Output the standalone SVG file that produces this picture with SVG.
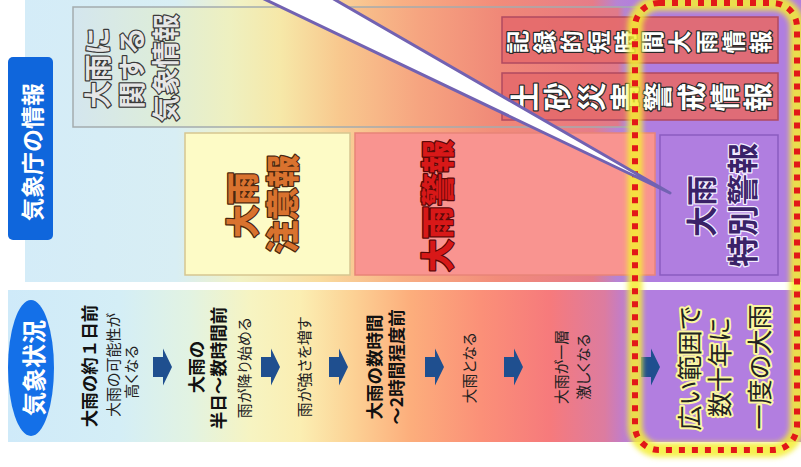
<svg xmlns="http://www.w3.org/2000/svg" xmlns:xlink="http://www.w3.org/1999/xlink" width="801" height="467" viewBox="0 0 801 467">
<defs>
<style>
text{font-family:"Noto Sans CJK JP","Noto Sans",sans-serif}
.v{text-anchor:middle;dominant-baseline:central}
.gray{font-size:27px;font-weight:700;fill:#e6e6e6;stroke:#3a3a3a;stroke-width:2.5px;paint-order:stroke;stroke-linejoin:round}
.chui{font-size:33px;font-weight:900;fill:#d9722e;stroke:#4a2810;stroke-width:2.5px;paint-order:stroke;stroke-linejoin:round}
.keiho{font-size:33px;font-weight:900;fill:#d81818;stroke:#5a0808;stroke-width:2.5px;paint-order:stroke;stroke-linejoin:round}
.toku{font-size:31px;font-weight:700;fill:#3a2268;stroke:#f4eeff;stroke-width:2.5px;paint-order:stroke;stroke-linejoin:round}
.redt{font-weight:700;fill:#ffffff;stroke:#2a2a2a;stroke-width:2.5px;paint-order:stroke;stroke-linejoin:round}
.wh{font-weight:700;fill:#ffffff}
.b{font-size:17.5px;font-weight:700;fill:#111}
.r{font-size:15px;font-weight:400;fill:#222;font-feature-settings:"palt"}
.fin{font-size:25px;font-weight:400;fill:#222;stroke:#fbf7a0;stroke-width:4px;paint-order:stroke;stroke-linejoin:round}
.arr{fill:#1f4f8f}
</style>
<linearGradient id="gBot" gradientUnits="userSpaceOnUse" x1="0" y1="0" x2="801" y2="0">
<stop offset="0.01" stop-color="#cfeaf9"/>
<stop offset="0.15" stop-color="#d4eef6"/>
<stop offset="0.237" stop-color="#e2f3e2"/>
<stop offset="0.312" stop-color="#f6f4c2"/>
<stop offset="0.375" stop-color="#fbeeb2"/>
<stop offset="0.437" stop-color="#fcd396"/>
<stop offset="0.512" stop-color="#fcae7c"/>
<stop offset="0.6" stop-color="#fb9078"/>
<stop offset="0.687" stop-color="#f67a7c"/>
<stop offset="0.755" stop-color="#dc7ca0"/>
<stop offset="0.79" stop-color="#b27ee0"/>
<stop offset="1" stop-color="#b27ee0"/>
</linearGradient>
<linearGradient id="gTop" gradientUnits="userSpaceOnUse" x1="0" y1="0" x2="801" y2="0">
<stop offset="0.03" stop-color="#d4ecf8"/>
<stop offset="0.22" stop-color="#d8eef4"/>
<stop offset="0.3" stop-color="#f2f2c4"/>
<stop offset="0.4" stop-color="#f9dc9e"/>
<stop offset="0.5" stop-color="#f8b084"/>
<stop offset="0.62" stop-color="#f28c7a"/>
<stop offset="0.74" stop-color="#e67c88"/>
<stop offset="0.77" stop-color="#b684d4"/>
<stop offset="0.8" stop-color="#b07ee0"/>
<stop offset="1" stop-color="#b07ee0"/>
</linearGradient>
<linearGradient id="gBox" gradientUnits="userSpaceOnUse" x1="0" y1="0" x2="801" y2="0">
<stop offset="0.094" stop-color="#d4e6ee"/>
<stop offset="0.187" stop-color="#dcecdc"/>
<stop offset="0.287" stop-color="#eef0c0"/>
<stop offset="0.35" stop-color="#f6e8a8"/>
<stop offset="0.424" stop-color="#f8c88e"/>
<stop offset="0.524" stop-color="#f6a480"/>
<stop offset="0.624" stop-color="#f08878"/>
<stop offset="0.724" stop-color="#ea7a7e"/>
<stop offset="0.771" stop-color="#e07a8a"/>
<stop offset="0.78" stop-color="#b684d0"/>
<stop offset="0.8" stop-color="#b07ee0"/>
<stop offset="1" stop-color="#b07ee0"/>
</linearGradient>
<filter id="blur" x="-10%" y="-10%" width="120%" height="120%"><feGaussianBlur stdDeviation="2.5"/></filter>
<path id="arrow" d="M0,-10 H10 V-18.5 L19,0 L10,18.5 V10 H0 Z"/>
</defs>
<rect width="801" height="467" fill="#ffffff"/>
<g id="panel-top"><rect x="25" y="0" width="776" height="282" fill="url(#gTop)"/></g>
<g id="panel-bottom"><rect x="8" y="290" width="793" height="152" fill="url(#gBot)"/></g>

<g id="label-jma">
<rect x="8" y="57" width="45" height="183" rx="5" fill="#0f66dc"/>
<text class="v wh" font-size="23" transform="translate(31,152) rotate(-90)">気象庁の情報</text>
</g>

<g id="info-general">
<rect x="73" y="7" width="724" height="120" fill="url(#gBox)"/>
<path d="M640,7 H73 V127 H640" fill="none" stroke="#a4acae" stroke-width="1.5"/>
<text class="v gray" transform="translate(96,68) rotate(-90)">大雨に</text>
<text class="v gray" transform="translate(130,68) rotate(-90)">関する</text>
<text class="v gray" transform="translate(164,68) rotate(-90)">気象情報</text>
</g>

<g id="info-kiroku">
<rect x="502" y="17" width="276" height="46" fill="#e46a6c" fill-opacity="0.9" stroke="#b04a60" stroke-width="1.5"/>
<text class="redt" font-size="23" rotate="-90" x="525.7 552.7 579.7 606.7 633.7 660.7 687.7 714.7 741.7 768.7" y="53.5">記録的短時間大雨情報</text>
</g>

<g id="info-dosha">
<rect x="502" y="73" width="276" height="47" fill="#e46a6c" fill-opacity="0.9" stroke="#b04a60" stroke-width="1.5"/>
<text class="redt" font-size="29" rotate="-90" x="536 569.3 602.6 635.9 669.2 702.5 735.8 769.1" y="111.5">土砂災害警戒情報</text>
</g>

<g id="advisory">
<rect x="185" y="133" width="165" height="142" fill="#fdfbc6" stroke="#d6c690" stroke-width="1.5"/>
<text class="v chui" transform="translate(241,205) rotate(-90)">大雨</text>
<text class="v chui" transform="translate(281,204) rotate(-90)">注意報</text>
</g>

<g id="warning">
<rect x="355" y="133" width="300" height="142" fill="#f99490" stroke="#e88478" stroke-width="1.5"/>
<text class="v keiho" transform="translate(436,206) rotate(-90)">大雨警報</text>
</g>

<g id="special-warning">
<rect x="660" y="135" width="118" height="140" fill="#b07ee0" stroke="#8a5cc0" stroke-width="1.5"/>
<text class="v toku" transform="translate(699,206) rotate(-90)">大雨</text>
<text class="v toku" transform="translate(740,205) rotate(-90)">特別警報</text>
</g>

<g id="label-weather">
<ellipse cx="31" cy="368" rx="23" ry="68" fill="#1470e8"/>
<text class="v wh" font-size="24" transform="translate(32,368) rotate(-90)">気象状況</text>
</g>

<g id="stage-1day">
<text class="v b" transform="translate(88,366) rotate(-90)">大雨の約１日前</text>
<text class="v r" font-size="16" transform="translate(112,365) rotate(-90)">大雨の可能性が</text>
<text class="v r" transform="translate(130,372) rotate(-90)">高くなる</text>
</g>

<g id="stage-halfday">
<text class="v b" transform="translate(195,367) rotate(-90)">大雨の</text>
<text class="v b" font-size="18.5" transform="translate(217,368) rotate(-90)">半日～数時間前</text>
<text class="v r" transform="translate(243,368) rotate(-90)">雨が降り始める</text>
</g>

<g id="stage-stronger">
<text class="v r" transform="translate(303,367) rotate(-90)">雨が強さを増す</text>
</g>

<g id="stage-hours">
<text class="v b" font-size="18.5" transform="translate(373,367) rotate(-90)">大雨の数時間</text>
<text class="v b" font-size="18.5" transform="translate(395,367) rotate(-90)">～2時間程度前</text>
</g>

<g id="stage-heavy">
<text class="v r" transform="translate(468,368) rotate(-90)">大雨となる</text>
</g>

<g id="stage-intense">
<text class="v r" font-size="16" transform="translate(560,367) rotate(-90)">大雨が一層</text>
<text class="v r" transform="translate(582,367) rotate(-90)">激しくなる</text>
</g>

<g id="stage-record">
<text class="v fin" transform="translate(688,368) rotate(-90)">広い範囲で</text>
<text class="v fin" transform="translate(718,367) rotate(-90)">数十年に</text>
<text class="v fin" transform="translate(758,367) rotate(-90)">一度の大雨</text>
</g>

<g id="connectors">
<use xlink:href="#arrow" class="arr" x="153" y="367"/>
<use xlink:href="#arrow" class="arr" x="261" y="367"/>
<use xlink:href="#arrow" class="arr" x="329" y="367"/>
<use xlink:href="#arrow" class="arr" x="425" y="367"/>
<use xlink:href="#arrow" class="arr" x="504" y="367"/>
<use xlink:href="#arrow" class="arr" x="641" y="367"/>
</g>

<g id="highlight-frame">
<rect x="635" y="3" width="162" height="447" rx="24" fill="none" stroke="#f4ee34" stroke-width="15" stroke-opacity="0.85" filter="url(#blur)"/>
<rect x="635" y="3" width="162" height="447" rx="24" fill="none" stroke="#e21818" stroke-width="6" stroke-dasharray="6 7"/>
</g>

<g id="callout">
<polygon points="262,-2 332,-2 670,193" fill="#ffffff" stroke="#7262b2" stroke-width="3" stroke-linejoin="round"/>
</g>
</svg>
